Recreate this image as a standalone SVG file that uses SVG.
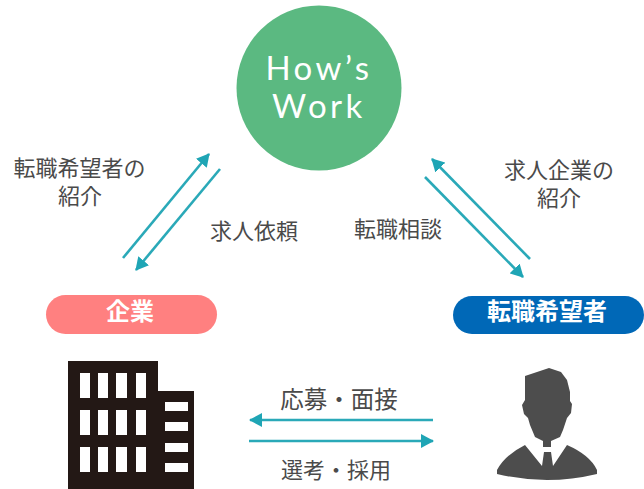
<svg xmlns="http://www.w3.org/2000/svg" width="644" height="489" viewBox="0 0 644 489">
<style>
text{font-family:"Liberation Sans","Noto Sans CJK JP",sans-serif;fill:#4a4a4a;font-size:22px;text-anchor:middle}
.pill{font-weight:700;fill:#fff;font-size:24px}
.logo{font-family:"Lato","Liberation Sans",sans-serif;fill:#fff;font-size:33px;letter-spacing:3.500px}
.cx{stroke:#2aa9b8;stroke-width:2.6;fill:none}
.win{fill:#fff}
</style>
<defs><marker id="a" markerUnits="userSpaceOnUse" markerWidth="14" markerHeight="14" refX="12" refY="7" orient="auto"><path d="M0 0L13 7L0 14Z" fill="#1fa5b5"/></marker></defs>
<rect width="644" height="489" fill="#fff"/>
<g id="connectors">
<path class="cx" marker-end="url(#a)" d="M123 258L209 154"/>
<path class="cx" marker-end="url(#a)" d="M220 169L136 270"/>
<path class="cx" marker-end="url(#a)" d="M530 259L432 159"/>
<path class="cx" marker-end="url(#a)" d="M425 177L523 277"/>
<path class="cx" marker-end="url(#a)" d="M433 420L250 420"/>
<path class="cx" marker-end="url(#a)" d="M249 441L433 441"/>
</g>
<g id="hows-work"><circle cx="319" cy="88" r="82.500" fill="#5bb981"/>
<text class="logo" x="319" y="80">How’s</text><text class="logo" x="319" y="118">Work</text></g>
<g id="kigyo"><rect x="46" y="295" width="171" height="39" rx="19.500" fill="#ff8080"/><text class="pill" x="130" y="320">企業</text></g>
<g id="kibosha"><rect x="453" y="296" width="191" height="38" rx="19" fill="#0068b7"/><text class="pill" x="547" y="320">転職希望者</text></g>
<g id="building">
<path fill="#231815" d="M68 361H158V391H194V489H68Z"/>
<g class="win">
<rect x="80" y="373" width="10" height="25"/><rect x="98" y="373" width="10" height="25"/><rect x="116" y="373" width="11" height="25"/><rect x="136" y="373" width="10" height="25"/>
<rect x="80" y="410" width="10" height="25"/><rect x="98" y="410" width="10" height="25"/><rect x="116" y="410" width="11" height="25"/><rect x="136" y="410" width="10" height="25"/>
<rect x="80" y="447" width="10" height="25"/><rect x="98" y="447" width="10" height="25"/><rect x="116" y="447" width="11" height="25"/><rect x="136" y="447" width="10" height="25"/>
<rect x="165" y="402" width="23" height="9"/><rect x="165" y="422" width="23" height="9"/><rect x="165" y="443" width="23" height="9"/><rect x="165" y="463" width="23" height="9"/>
</g></g>
<g id="person"><path fill="#4d4d4d" d="M525 376L537 372L549 368L561 372L567 380L570 392V401L572 404L571 413L567 418L563 430L560 437L551 441V447H543V441L535 437L530 425L528 418L524 414L522 405L525 400Z"/><path fill="#4d4d4d" d="M525 445L542 466L544 452H551L553 466L567 445Q590 455 597 470V474Q547 486 497 474V470Q505 455 525 445Z"/></g>
<g id="labels">
<text x="79.500" y="176">転職希望者の</text><text x="80" y="204">紹介</text>
<text x="254" y="239">求人依頼</text><text x="398" y="237">転職相談</text>
<text x="559" y="178">求人企業の</text><text x="559" y="206">紹介</text>
<text x="339" y="408" style="font-size:23.500px">応募・面接</text><text x="336" y="478">選考・採用</text>
</g>
</svg>
